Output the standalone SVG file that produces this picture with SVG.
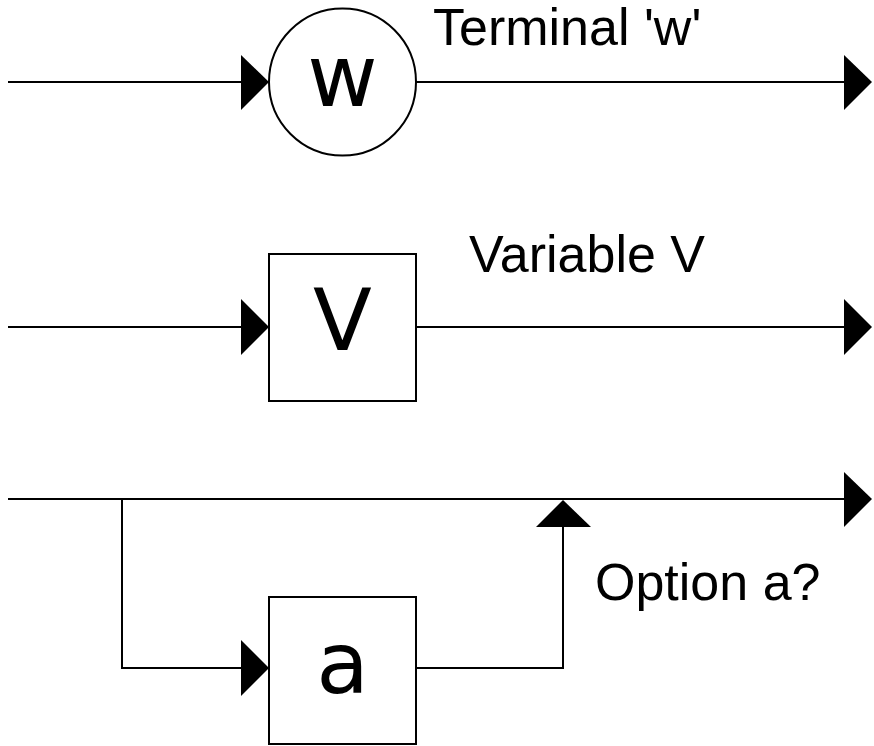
<svg xmlns="http://www.w3.org/2000/svg" width="874" height="746" viewBox="0 0 874 746">
  <style>
    .wire { fill: none; stroke: #000; stroke-width: 2; }
    .head { fill: #000; stroke: none; }
    .shape { fill: #fff; stroke: #000; stroke-width: 2; }
    .sym { font-family: "DejaVu Sans", sans-serif; font-size: 86px; fill: #000; text-anchor: middle; }
    .label { font-family: "Liberation Sans", Arial, sans-serif; font-size: 52px; fill: #000; }
  </style>
  <rect width="874" height="746" fill="#fff"/>

  <g id="connectors">
    <!-- terminal row -->
    <line class="wire" x1="8" y1="82" x2="242" y2="82"/>
    <polygon class="head" points="241,55 269,82 241,110"/>
    <line class="wire" x1="416" y1="82" x2="845" y2="82"/>
    <polygon class="head" points="844,55 872,82 844,110"/>

    <!-- variable row -->
    <line class="wire" x1="8" y1="327" x2="242" y2="327"/>
    <polygon class="head" points="241,299 269,327 241,355"/>
    <line class="wire" x1="416" y1="327" x2="845" y2="327"/>
    <polygon class="head" points="844,299 872,327 844,355"/>

    <!-- option row: bypass line -->
    <line class="wire" x1="8" y1="499" x2="845" y2="499"/>
    <polygon class="head" points="844,472 872,499 844,527"/>
    <!-- option row: branch through 'a' -->
    <polyline class="wire" points="122,499 122,668 242,668"/>
    <polygon class="head" points="241,640 269,668 241,696"/>
    <polyline class="wire" points="416,668 563,668 563,526"/>
    <polygon class="head" points="536,527 563,500 591,527"/>
  </g>

  <g id="terminal-w">
    <circle class="shape" cx="342.5" cy="82" r="73.5"/>
    <text class="sym" x="342.5" y="106">w</text>
  </g>
  <text class="label" x="433" y="45">Terminal 'w'</text>

  <g id="variable-v">
    <rect class="shape" x="269" y="254" width="147" height="147"/>
    <text class="sym" x="342.5" y="350">V</text>
  </g>
  <text class="label" x="469" y="272">Variable V</text>

  <g id="option-a">
    <rect class="shape" x="269" y="597" width="147" height="147"/>
    <text class="sym" x="342.5" y="693">a</text>
  </g>
  <text class="label" x="595" y="600">Option a?</text>
</svg>
